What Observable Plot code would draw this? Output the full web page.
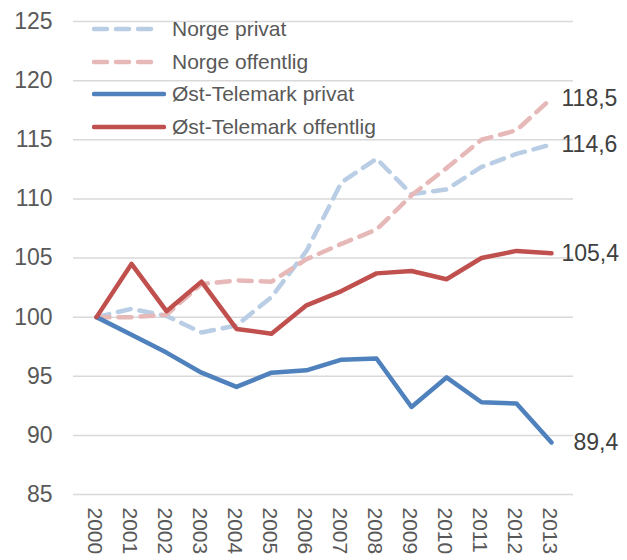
<!DOCTYPE html>
<html><head><meta charset="utf-8">
<script src="https://cdn.jsdelivr.net/npm/d3@7"></script>
<script src="https://cdn.jsdelivr.net/npm/@observablehq/plot@0.6"></script>
<style>
body{margin:0;background:#fff;font-family:"Liberation Sans",Arial,sans-serif;}
#wrap{position:relative;width:627px;height:560px;overflow:hidden;}
#legend{position:absolute;left:92px;top:13px;}
.row{display:flex;align-items:center;height:32.5px;font-size:21px;color:#595959;white-space:nowrap;}
.row svg{margin-right:6px;}
</style></head><body><div id="wrap"><div id="legend"></div></div>
<script>
const years = [2000,2001,2002,2003,2004,2005,2006,2007,2008,2009,2010,2011,2012,2013];
const norgePrivat    = [100,100.7,100.1,98.7,99.3,101.7,105.6,111.4,113.4,110.4,110.8,112.7,113.8,114.6];
const norgeOffentlig = [100,100.0,100.2,102.8,103.1,103.0,104.9,106.2,107.4,110.3,112.6,115.0,115.8,118.5];
const ostPrivat      = [100,98.5,97.0,95.3,94.1,95.3,95.5,96.4,96.5,92.4,94.9,92.8,92.7,89.4];
const ostOffentlig   = [100,104.5,100.5,103.0,99.0,98.6,101.0,102.2,103.7,103.9,103.2,105.0,105.6,105.4];
const seriesNames = ["Norge privat","Norge offentlig","Øst-Telemark privat","Øst-Telemark offentlig"];
const yTicks = [85,90,95,100,105,110,115,120,125];

const seriesValues = [norgePrivat, norgeOffentlig, ostPrivat, ostOffentlig];
const colors = ["#b9cde5","#e6b9b8","#4f81bd","#c0504d"];
const dashes = ["13,9","13,9",null,null];

const rows = seriesNames.flatMap((n,k)=>years.map((y,i)=>({name:n, year:y, value:seriesValues[k][i]})));
const last = seriesNames.map((n,k)=>({name:n, year:years[years.length-1], value:seriesValues[k][years.length-1],
  label:String(seriesValues[k][years.length-1]).replace(".",",")}));

const font = "'Liberation Sans', Arial, sans-serif";
const chart = Plot.plot({
  width:627, height:560,
  marginTop:21, marginBottom:66, marginLeft:73, marginRight:54,
  x:{type:"point", domain:years, padding:0.5},
  y:{domain:[85,125]},
  style:{fontFamily:font, color:"#595959", background:"#fff", overflow:"visible"},
  marks:[
    Plot.ruleY(yTicks, {stroke:"#d9d9d9", strokeWidth:1.5}),
    Plot.axisY({ticks:yTicks, tickSize:0, tickPadding:21, fontSize:23, fill:"#595959", label:null}),
    Plot.axisX({tickSize:0, tickRotate:90, tickPadding:13, fontSize:21, dx:-2, fill:"#595959", tickFormat:d=>String(d), label:null}),
    ...seriesNames.map((n,k)=>Plot.line(rows.filter(r=>r.name===n), {
      x:"year", y:"value", stroke:colors[k], strokeWidth:4.5,
      strokeDasharray:dashes[k] || undefined, strokeLinecap:"round", strokeLinejoin:"round"})),
    Plot.text(last.filter(d=>d.value>100), {x:"year", y:"value", text:"label", textAnchor:"start", dx:10, fontSize:23, fill:"#404040"}),
    Plot.text(last.filter(d=>d.value<100), {x:"year", y:"value", text:"label", textAnchor:"start", dx:22, fontSize:23, fill:"#404040"})
  ]
});
const wrap = document.getElementById("wrap");
wrap.insertBefore(chart, wrap.firstChild);

const legend = document.getElementById("legend");
seriesNames.forEach((n,k)=>{
  const row = document.createElement("div");
  row.className = "row";
  const w = dashes[k] ? 63 : 72;
  row.innerHTML = `<svg width="74" height="10"><line x1="2" y1="5" x2="${w}" y2="5" stroke="${colors[k]}" stroke-width="4.5" stroke-linecap="round" ${dashes[k]?`stroke-dasharray="${dashes[k]}"`:""}/></svg><span>${n}</span>`;
  legend.appendChild(row);
});
</script></body></html>
